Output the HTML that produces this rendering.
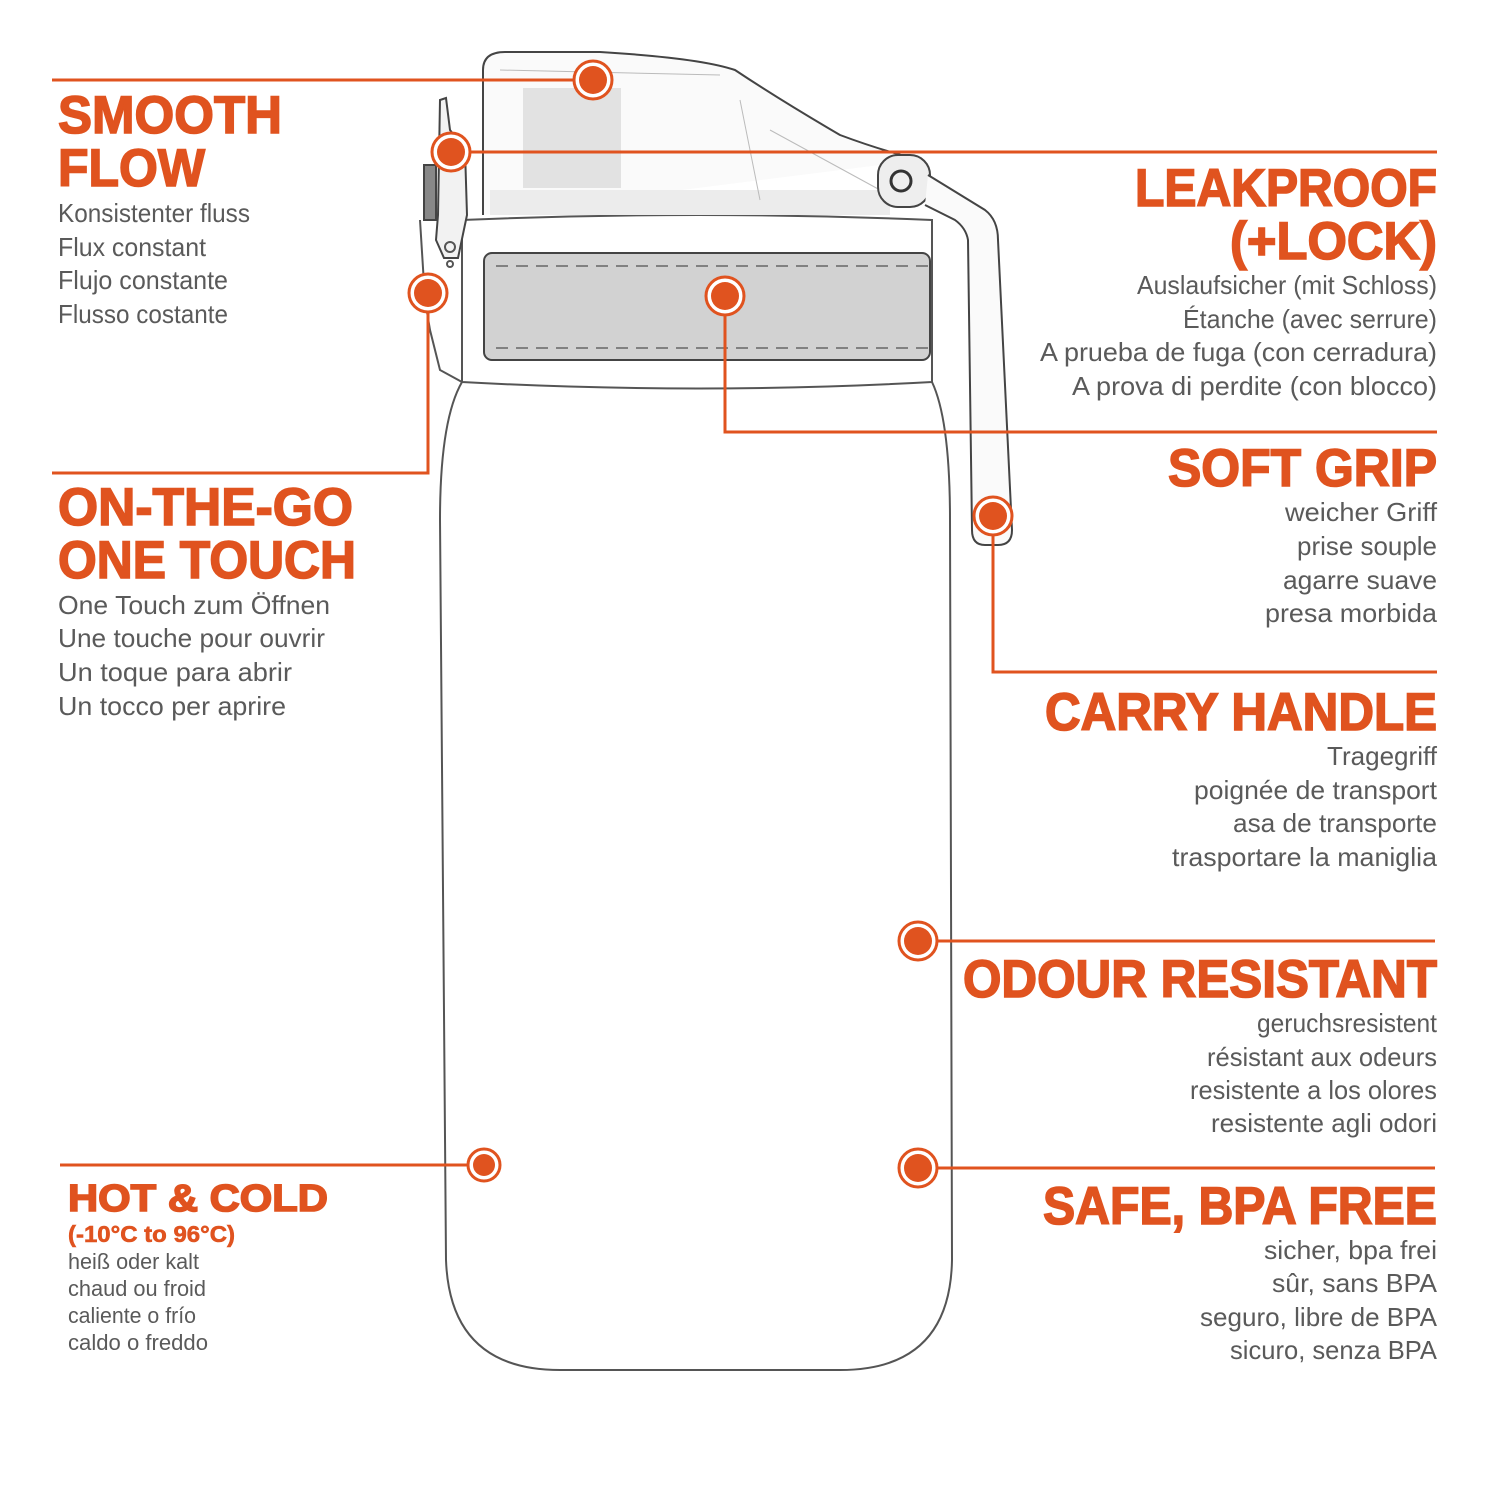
<!DOCTYPE html>
<html><head><meta charset="utf-8"><style>
html,body{margin:0;padding:0;background:#fff}
svg{display:block}
.h{font-family:"Liberation Sans",sans-serif;font-weight:bold;fill:#e0531f;stroke:#e0531f;stroke-width:1.6px}
.s{font-family:"Liberation Sans",sans-serif;fill:#5a5a5a;font-size:26px}
.hs{font-family:"Liberation Sans",sans-serif;fill:#5a5a5a;font-size:22px}
</style></head><body>
<svg width="1500" height="1500" viewBox="0 0 1500 1500" xmlns="http://www.w3.org/2000/svg">
<g fill="none" stroke="#555" stroke-width="2">
<path d="M462,382 Q440,420 440,520 L446,1260 Q450,1370 560,1370 L840,1370 Q950,1370 952,1260 L950,520 Q950,420 932,382" fill="#fff"/>
<path d="M462,382 Q700,395 932,382 L932,220 Q700,210 462,220 Z" fill="#fff"/>
<path d="M462,382 L440,370 L430,330 L425,300 L420,220" />
<rect x="484" y="253" width="446" height="107" rx="8" fill="#d2d2d2" stroke="#444"/>
<path d="M496,266 L928,266 M496,348 L928,348" stroke="#666" stroke-dasharray="12,8" stroke-width="1.5"/>
<path d="M483,215 L483,70 Q483,52 505,52 L600,52 Q700,58 735,70 Q780,100 840,135 Q880,150 920,160" fill="#fafafa" stroke="#444"/>
<rect x="523" y="88" width="98" height="100" fill="#e2e2e2" stroke="none"/>
<rect x="490" y="190" width="400" height="25" fill="#ececec" stroke="none"/>
<path d="M500,70 L720,75 M740,100 L760,200 M770,130 L880,190" stroke="#bbb" stroke-width="1"/>
<rect x="878" y="155" width="52" height="52" rx="20" fill="#eee" stroke="#444"/>
<circle cx="901" cy="181" r="10" stroke="#333" stroke-width="3"/>
<path d="M928,175 L985,210 Q998,220 998,240 L1012,530 Q1012,545 998,545 L985,545 Q972,545 972,530 L968,240 Q966,228 955,220 L925,205" fill="#fafafa" stroke="#444"/>
<path d="M438,215 L440,100 L446,98 L450,130 L465,150 L467,215 L458,258 L444,258 L436,240 Z" fill="#f2f2f2" stroke="#444"/>
<circle cx="450" cy="247" r="5"/><circle cx="450" cy="264" r="3"/>
<rect x="424" y="165" width="12" height="55" fill="#888" stroke="#444"/>
</g>
<g stroke="#e0531f" stroke-width="3" fill="none">
<path d="M52,80 L593,80"/>
<path d="M451,152 L1437,152"/>
<path d="M428,293 L428,473 L52,473"/>
<path d="M725,296 L725,432 L1437,432"/>
<path d="M993,516 L993,672 L1437,672"/>
<path d="M918,941 L1435,941"/>
<path d="M918,1168 L1435,1168"/>
<path d="M60,1165 L484,1165"/>
</g>
<g fill="#e0531f" stroke="#e0531f" stroke-width="3">
<g><circle cx="593" cy="80" r="19" fill="#fff"/><circle cx="593" cy="80" r="14" stroke="none"/></g>
<g><circle cx="451" cy="152" r="19" fill="#fff"/><circle cx="451" cy="152" r="14" stroke="none"/></g>
<g><circle cx="428" cy="293" r="19" fill="#fff"/><circle cx="428" cy="293" r="14" stroke="none"/></g>
<g><circle cx="725" cy="296" r="19" fill="#fff"/><circle cx="725" cy="296" r="14" stroke="none"/></g>
<g><circle cx="993" cy="516" r="19" fill="#fff"/><circle cx="993" cy="516" r="14" stroke="none"/></g>
<g><circle cx="918" cy="941" r="19" fill="#fff"/><circle cx="918" cy="941" r="14" stroke="none"/></g>
<g><circle cx="918" cy="1168" r="19" fill="#fff"/><circle cx="918" cy="1168" r="14" stroke="none"/></g>
<g><circle cx="484" cy="1165" r="16" fill="#fff"/><circle cx="484" cy="1165" r="11" stroke="none"/></g>
</g>
<g class="h" font-size="53">
<text x="58" y="133" textLength="224" lengthAdjust="spacingAndGlyphs">SMOOTH</text>
<text x="58" y="186" textLength="147" lengthAdjust="spacingAndGlyphs">FLOW</text>
<text x="1135" y="206" textLength="302" lengthAdjust="spacingAndGlyphs">LEAKPROOF</text>
<text x="1230" y="259" textLength="207" lengthAdjust="spacingAndGlyphs">(+LOCK)</text>
<text x="58" y="525" textLength="295" lengthAdjust="spacingAndGlyphs">ON-THE-GO</text>
<text x="58" y="578" textLength="298" lengthAdjust="spacingAndGlyphs">ONE TOUCH</text>
<text x="1168" y="486" textLength="269" lengthAdjust="spacingAndGlyphs">SOFT GRIP</text>
<text x="1045" y="730" textLength="392" lengthAdjust="spacingAndGlyphs">CARRY HANDLE</text>
<text x="963" y="997" textLength="474" lengthAdjust="spacingAndGlyphs">ODOUR RESISTANT</text>
<text x="1043" y="1224" textLength="394" lengthAdjust="spacingAndGlyphs">SAFE, BPA FREE</text>
<text x="68" y="1211" font-size="38" textLength="260" lengthAdjust="spacingAndGlyphs">HOT &amp; COLD</text>
<text x="68" y="1242" font-size="23" style="stroke-width:0.6px" textLength="167" lengthAdjust="spacingAndGlyphs">(-10°C to 96°C)</text>
</g>
<g class="s">
<text x="58" y="222" textLength="192" lengthAdjust="spacingAndGlyphs">Konsistenter fluss</text>
<text x="58" y="256" textLength="148" lengthAdjust="spacingAndGlyphs">Flux constant</text>
<text x="58" y="289" textLength="170" lengthAdjust="spacingAndGlyphs">Flujo constante</text>
<text x="58" y="323" textLength="170" lengthAdjust="spacingAndGlyphs">Flusso costante</text>
<text x="58" y="614" textLength="272" lengthAdjust="spacingAndGlyphs">One Touch zum Öffnen</text>
<text x="58" y="647" textLength="267" lengthAdjust="spacingAndGlyphs">Une touche pour ouvrir</text>
<text x="58" y="681" textLength="234" lengthAdjust="spacingAndGlyphs">Un toque para abrir</text>
<text x="58" y="715" textLength="228" lengthAdjust="spacingAndGlyphs">Un tocco per aprire</text>
</g>
<g class="s" text-anchor="end">
<text x="1437" y="294" textLength="300" lengthAdjust="spacingAndGlyphs">Auslaufsicher (mit Schloss)</text>
<text x="1437" y="328" textLength="254" lengthAdjust="spacingAndGlyphs">Étanche (avec serrure)</text>
<text x="1437" y="361" textLength="397" lengthAdjust="spacingAndGlyphs">A prueba de fuga (con cerradura)</text>
<text x="1437" y="395" textLength="365" lengthAdjust="spacingAndGlyphs">A prova di perdite (con blocco)</text>
<text x="1437" y="521" textLength="152" lengthAdjust="spacingAndGlyphs">weicher Griff</text>
<text x="1437" y="555" textLength="140" lengthAdjust="spacingAndGlyphs">prise souple</text>
<text x="1437" y="589" textLength="154" lengthAdjust="spacingAndGlyphs">agarre suave</text>
<text x="1437" y="622" textLength="172" lengthAdjust="spacingAndGlyphs">presa morbida</text>
<text x="1437" y="765" textLength="110" lengthAdjust="spacingAndGlyphs">Tragegriff</text>
<text x="1437" y="799" textLength="243" lengthAdjust="spacingAndGlyphs">poignée de transport</text>
<text x="1437" y="832" textLength="204" lengthAdjust="spacingAndGlyphs">asa de transporte</text>
<text x="1437" y="866" textLength="265" lengthAdjust="spacingAndGlyphs">trasportare la maniglia</text>
<text x="1437" y="1032" textLength="180" lengthAdjust="spacingAndGlyphs">geruchsresistent</text>
<text x="1437" y="1066" textLength="230" lengthAdjust="spacingAndGlyphs">résistant aux odeurs</text>
<text x="1437" y="1099" textLength="247" lengthAdjust="spacingAndGlyphs">resistente a los olores</text>
<text x="1437" y="1132" textLength="226" lengthAdjust="spacingAndGlyphs">resistente agli odori</text>
<text x="1437" y="1259" textLength="173" lengthAdjust="spacingAndGlyphs">sicher, bpa frei</text>
<text x="1437" y="1292" textLength="165" lengthAdjust="spacingAndGlyphs">sûr, sans BPA</text>
<text x="1437" y="1326" textLength="237" lengthAdjust="spacingAndGlyphs">seguro, libre de BPA</text>
<text x="1437" y="1359" textLength="207" lengthAdjust="spacingAndGlyphs">sicuro, senza BPA</text>
</g>
<g class="hs">
<text x="68" y="1269" textLength="131" lengthAdjust="spacingAndGlyphs">heiß oder kalt</text>
<text x="68" y="1296" textLength="138" lengthAdjust="spacingAndGlyphs">chaud ou froid</text>
<text x="68" y="1323" textLength="128" lengthAdjust="spacingAndGlyphs">caliente o frío</text>
<text x="68" y="1350" textLength="140" lengthAdjust="spacingAndGlyphs">caldo o freddo</text>
</g>
</svg>
</body></html>
